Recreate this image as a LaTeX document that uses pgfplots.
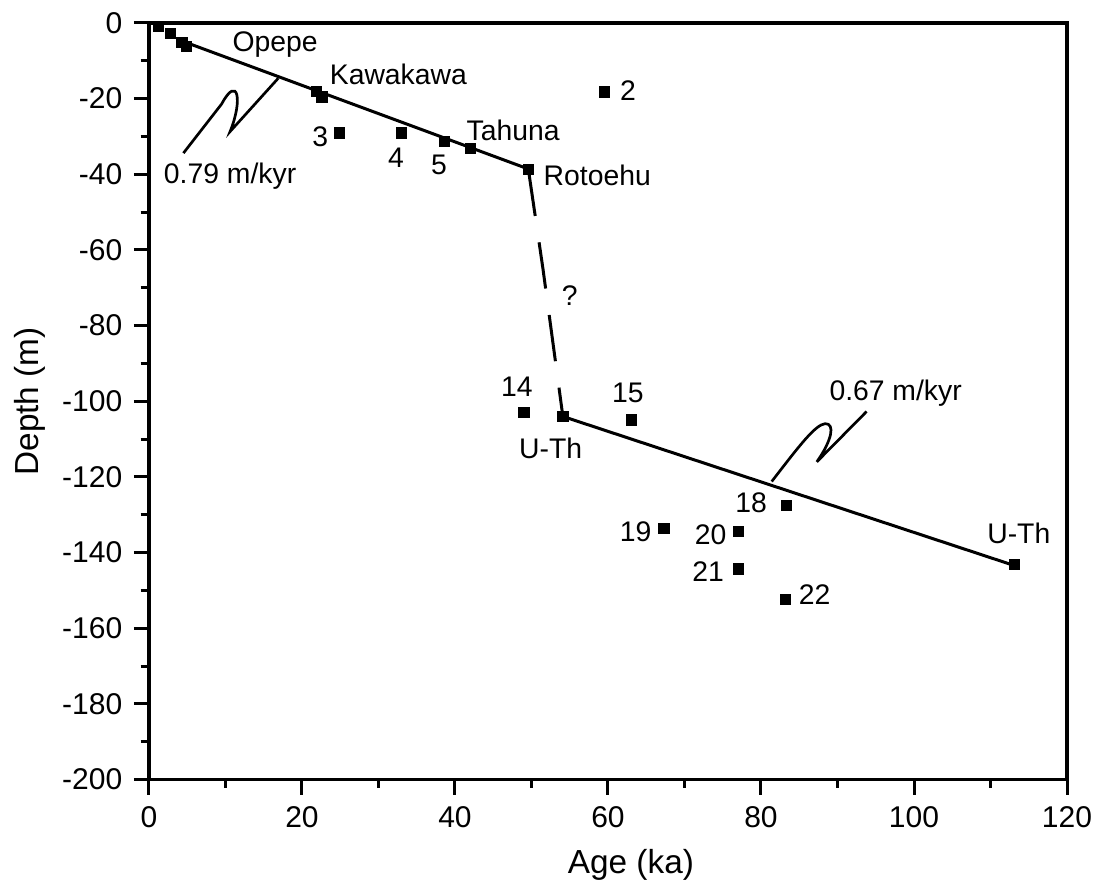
\documentclass[border=0pt]{standalone}
\usepackage{fontspec}
\setmainfont{Liberation Sans}
\usepackage{pgfplots}
\pgfplotsset{compat=1.18}

\begin{document}
\begin{tikzpicture}
\begin{axis}[
    scale only axis,
    width=275.4pt, height=227pt,
    xmin=0, xmax=120, ymin=-200, ymax=0,
    xtick={0,20,...,120}, ytick={-200,-180,...,0},
    minor tick num=1,
    tick pos=left, tick align=outside,
    major tick length=4.5pt, minor tick length=2.5pt,
    axis line style={line width=1.1pt},
    every tick/.style={line width=0.9pt, black},
    /pgf/number format/assume math mode=true,
    tick label style={font=\fontsize{9}{11}\selectfont},
    xlabel={Age (ka)}, ylabel={Depth (m)},
    label style={font=\fontsize{11}{13}\selectfont},
    every axis x label/.style={at={(rel axis cs:0.525,-0.112)}, anchor=center},
    every axis y label/.style={at={(rel axis cs:-0.13,0.5)}, anchor=center, rotate=90},
    clip=false,
]
\coordinate (sw) at (rel axis cs:0,0);
\coordinate (ne) at (rel axis cs:1,1);

% fitted lines
\addplot[black, line width=0.9pt] coordinates {(4.9,-5.2) (49.6,-38.6)};
\addplot[black, line width=0.9pt] coordinates {(54.1,-104.0) (113.1,-143.4)};
\addplot[black, line width=0.9pt, dash pattern=on 14pt off 8pt] coordinates {(49.6,-38.8) (51.5,-65) (54.1,-104.0)};

% dated horizons
\addplot[only marks, mark=square*, mark size=1.5pt, black] coordinates {
 (1.2,-1.0) (2.8,-2.7) (4.3,-5.2) (4.9,-6.3)
 (21.9,-18.1) (22.6,-19.6) (24.9,-29.1) (33.0,-29.1)
 (38.6,-31.4) (42.0,-33.1) (49.6,-38.8) (59.5,-18.2)
 (49.0,-102.9) (54.1,-104.0) (63.1,-104.9)
 (83.3,-127.6) (67.3,-133.7) (77.1,-134.4) (77.1,-144.3)
 (83.2,-152.3) (113.1,-143.2)
};

% callouts
\draw[line width=0.8pt] (axis cs:16.9,-14.6) -- (axis cs:10.6,-28.7)
  .. controls (axis cs:12.3,-20.3) and (axis cs:11.6,-13.5) .. (axis cs:9.5,-21.4)
  -- (axis cs:4.5,-34.4);
\draw[line width=0.8pt] (axis cs:81.4,-121.2)
  .. controls (axis cs:85.1,-111.5) and (axis cs:87.1,-106.2) .. (axis cs:88.4,-105.9)
  .. controls (axis cs:89.7,-105.9) and (axis cs:89.3,-110.2) .. (axis cs:87.3,-116.0)
  -- (axis cs:93.8,-102.7);

\begin{scope}[every node/.style={font=\fontsize{8.5}{10}\selectfont, inner sep=0pt}]
\node at (axis cs:16.5,-5.8) {Opepe};
\node at (axis cs:32.6,-13.7) {Kawakawa};
\node at (axis cs:10.6,-40.6) {0.79 m/kyr};
\node at (axis cs:22.4,-30.0) {3};
\node at (axis cs:32.3,-35.6) {4};
\node at (axis cs:37.9,-37.5) {5};
\node at (axis cs:47.6,-28.5) {Tahuna};
\node at (axis cs:58.6,-40.4) {Rotoehu};
\node at (axis cs:62.6,-18.0) {2};
\node at (axis cs:55.0,-72.1) {?};
\node at (axis cs:48.1,-96.1) {14};
\node at (axis cs:62.6,-97.7) {15};
\node at (axis cs:52.5,-112.4) {U-Th};
\node at (axis cs:97.6,-97.8) {0.67 m/kyr};
\node at (axis cs:78.7,-126.9) {18};
\node at (axis cs:63.6,-134.4) {19};
\node at (axis cs:73.4,-135.3) {20};
\node at (axis cs:73.1,-145.0) {21};
\node at (axis cs:87.0,-151.1) {22};
\node at (axis cs:113.7,-134.8) {U-Th};
\end{scope}
\end{axis}
\pgfresetboundingbox
\path[use as bounding box] ([xshift=-44.7pt,yshift=-32.4pt]sw) rectangle ([xshift=9.6pt,yshift=6.9pt]ne);
\end{tikzpicture}
\end{document}
